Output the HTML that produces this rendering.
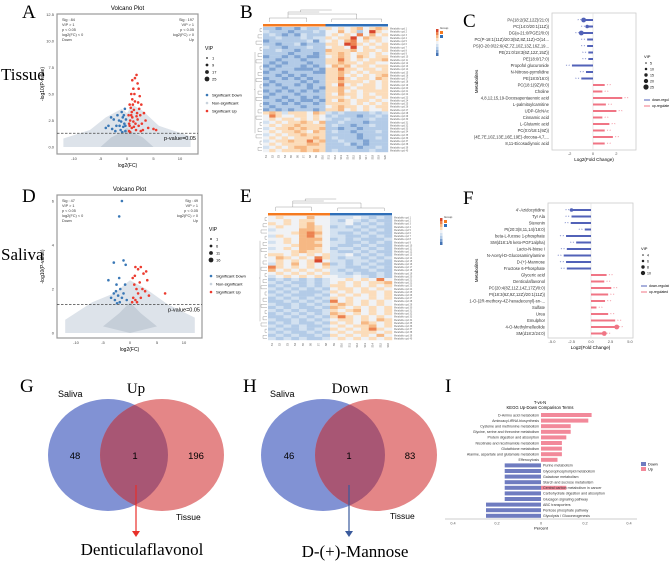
<!DOCTYPE html>
<html><head><meta charset="utf-8">
<style>
html,body{margin:0;padding:0;background:#fff;}
svg{display:block;font-family:"Liberation Sans",sans-serif;}
.serif{font-family:"Liberation Serif",serif;}
</style></head>
<body>
<svg id="fig" width="669" height="563" viewBox="0 0 669 563" xmlns="http://www.w3.org/2000/svg">
<defs>
<clipPath id="clipG"><ellipse cx="108" cy="455" rx="60" ry="56"/></clipPath>
<clipPath id="clipH"><ellipse cx="323" cy="455" rx="62" ry="56"/></clipPath>
</defs>
<text class="serif" x="22" y="18" font-size="19">A</text>
<text class="serif" x="240" y="18" font-size="19">B</text>
<text class="serif" x="463" y="27" font-size="19">C</text>
<text class="serif" x="22" y="202" font-size="19">D</text>
<text class="serif" x="240" y="202" font-size="19">E</text>
<text class="serif" x="463" y="204" font-size="19">F</text>
<text class="serif" x="20" y="392" font-size="19">G</text>
<text class="serif" x="243" y="392" font-size="19">H</text>
<text class="serif" x="445" y="392" font-size="19">I</text>
<text class="serif" x="1" y="80" font-size="17">Tissue</text>
<text class="serif" x="1" y="260" font-size="17">Saliva</text>

<g>
<ellipse cx="108" cy="455" rx="60" ry="56" fill="#8192d4"/>
<ellipse cx="162" cy="455" rx="62" ry="56" fill="#e48687"/>
<ellipse cx="162" cy="455" rx="62" ry="56" fill="#a85674" clip-path="url(#clipG)"/>
<text x="58" y="397" font-size="9">Saliva</text>
<text class="serif" x="136" y="393" font-size="15" text-anchor="middle">Up</text>
<text x="75" y="459" font-size="9.5" text-anchor="middle">48</text>
<text x="135" y="459" font-size="9.5" text-anchor="middle">1</text>
<text x="196" y="459" font-size="9.5" text-anchor="middle">196</text>
<text x="176" y="520" font-size="8.5">Tissue</text>
<line x1="136" y1="485" x2="136" y2="532" stroke="#e8302a" stroke-width="1.2"/>
<polygon points="132,531 140,531 136,537" fill="#e8302a"/>
<text class="serif" x="142" y="555" font-size="17" text-anchor="middle">Denticulaflavonol</text>
</g>
<g>
<ellipse cx="323" cy="455" rx="62" ry="56" fill="#8192d4"/>
<ellipse cx="376" cy="455" rx="61" ry="56" fill="#e48687"/>
<ellipse cx="376" cy="455" rx="61" ry="56" fill="#a85674" clip-path="url(#clipH)"/>
<text x="270" y="397" font-size="9">Saliva</text>
<text class="serif" x="350" y="393" font-size="15" text-anchor="middle">Down</text>
<text x="289" y="459" font-size="9.5" text-anchor="middle">46</text>
<text x="349" y="459" font-size="9.5" text-anchor="middle">1</text>
<text x="410" y="459" font-size="9.5" text-anchor="middle">83</text>
<text x="390" y="519" font-size="8.5">Tissue</text>
<line x1="349" y1="485" x2="349" y2="532" stroke="#3a5a9c" stroke-width="1.2"/>
<polygon points="345,531 353,531 349,537" fill="#3a5a9c"/>
<text class="serif" x="355" y="557" font-size="17" text-anchor="middle">D-(+)-Mannose</text>
</g>
</svg>
<script>
const volcA_up=[[0.5,2],[0.8,3],[1,4.5],[1.2,5.5],[1.5,6.5],[1.8,6.8],[2,6],[2.2,5.5],[1.3,3.5],[0.6,2.5],[0.9,1.8],[1.6,2.2],[2.5,3],[2.8,2.2],[3,1.6],[1.1,4],[1.4,5],[0.7,3.7],[2.1,4.2],[2.4,4.8],[1.9,3.2],[0.4,1.5],[1.0,2.8],[3.5,2.5],[4,1.8],[5,1.7],[5.5,1.6],[2.6,1.5],[1.7,1.6],[0.3,3],[0.5,4],[1.2,2.4],[2.0,2.6],[2.3,3.6],[1.5,4.3],[0.8,5],[1.0,6.3],[2.7,4],[3.2,3.2],[0.6,1.4],[0.4,2.2],[1.3,1.9],[0.9,3.3],[1.8,2.9],[2.2,2]];
const volcA_down=[[-0.3,1.5],[-0.5,2.2],[-0.8,2.8],[-1,3.3],[-1.5,2.5],[-2,2],[-2.5,2.6],[-3,2.8],[-3.5,2],[-4,1.8],[-0.4,3.6],[-0.7,1.9],[-1.2,1.6],[-1.8,3],[-2.2,1.5],[-0.2,2.6],[-0.6,3],[-1.4,2],[-2.8,1.7],[-0.9,1.4],[-0.3,2],[-1.1,2.4]];
const volcA_cloud=[[-12,0],[-12,0.8],[-7,1.6],[-4,2.8],[-1,3.6],[0,3.2],[1,4],[3,3.4],[6,2],[12,1],[12,0]];
const volcA_core=[[-5,0],[-3,0.9],[-1,1.4],[0,1.8],[1,1.4],[3,0.9],[5,0]];
const volcD_up=[[0.5,2.5],[1,3],[1.5,2.9],[2,3],[2.5,2.7],[3,2.8],[0.8,2.2],[1.2,2],[1.8,2.3],[2.3,2],[0.6,1.6],[1,1.5],[1.5,1.8],[2,1.6],[2.8,1.9],[3.5,1.7],[0.4,1.4],[1.3,1.4],[6.5,1.8],[0.9,2.6],[3.2,2.4]];
const volcD_down=[[-1.5,6],[-2,5.3],[-3,3.2],[-1.2,3.3],[-0.8,3.1],[-2,2.5],[-4,2.4],[-2.5,2.2],[-1.8,2],[-3,1.8],[-2.2,1.7],[-1.5,1.6],[-2.8,1.5],[-1.9,1.4],[-0.6,1.5],[-2.4,1.35],[-1.2,1.8],[-3.5,1.6],[-0.9,2.2],[-2.6,1.9]];
const volcD_cloud=[[-12,0],[-12,0.6],[-7,1.4],[-3,1.8],[0,2.4],[3,2],[7,1.3],[12,0.7],[12,0]];
const volcD_core=[[-5,0.3],[-2,0.9],[0,1.4],[2,0.9],[5,0.3],[0,0]];

const heatB=["22122132235454564565","32221222324464524854","23212132224545474645","22322232335455846554","12222223134546745454","22122312225548754545","32212223224554845455","22322122226555645545","22221222125565455454","12212121124565465455","22122212225575454556","21212221225565545544","12122212124656455455","21222111215575545545","12212222115565454555","22121212225564545456","12212121225575455465","21222212125565554545","12122121225474545545","22212221215565455545","12121212125564545555","21222122225465545455","12212212125554545545","22121211215465455454","12212122125555454545","21222212224565545455","12121222125564545445","56535554653232222323","47544554542322212232","45455454543223222322","34545565462232221222","45455655552322122322","34556565562212212222","45455654652322122232","34545565552222212222","45454555652322212232","34556557562232221222","45455556652223121222","34545665552222212232","45455565652322222322"];
const heatE=["4544464433343232","4454554432432322","5454564433423232","4544565423232322","3444665433323232","4445676432232322","3544675433223232","4454666423232223","3454665433223232","4445666432232322","3454665423323232","4445655432232322","5545454533423232","4654547532332323","4545458433233232","3546454623232322","7545454533223232","6454545432322322","4545454533232232","3454545443343232","2323232344545474","3232232345454556","2323232355454545","3232323245545454","2323222354545545","3232223245454545","2323232354544545","2232323274545454","3223232356545454","2323223265454545","3232322354564545","2323232365454545","2232323257545454","3223232345545465","2323223254546545","3232322345455645","2322323254545754","3232232345455545","2323223254545464","3232322345454545"];

const cNames=["PA(18:2(9Z,12Z)/21:0)","PC(14:0/20:1(11Z))","DG(a-21:0/PGE2/0:0)","PC(P-18:1(11Z)/20:3(5Z,8Z,11Z)-O(14...","PS(O-20:0/22:6(4Z,7Z,10Z,13Z,16Z,19...","PE(21:0/18:3(6Z,12Z,15Z))","PE(18:0/17:0)","Propofol glucuronide","N-Nitroso-pyrrolidine","PE(18:0/16:0)","PC(18:1(9Z)/0:0)","Choline","4,8,12,15,19-Docosapentaenoic acid","L-palmitoylcarnitine","UDP-GlcNAc","Cinnamic acid","L-Glutamic acid","PC(0:0/18:1(9Z))","(4E,7E,10Z,13E,16E,19E)-docosa-4,7,...","8,11-Eicosadiynoic acid"];
const cValues=[-0.8,-0.5,-1.0,-0.5,-0.5,-0.4,-0.4,-1.8,-0.6,-1.0,1.0,0.8,2.5,1.1,2.0,0.8,1.4,1.0,1.7,1.0];
const cVip=[4,3,4,0,0,0,0,0,0,0,0,0,0,0,0,0,0,0,0,0];
const fNames=["4'-Azidocytidine","Tyr Ala","Stevenin","PI(20:3(8,11,14)/18:0)","beta-L-fucose 1-phosphate","SM(d18:1/6 keto-PGF1alpha)","Lacto-N-biose I","N-Acetyl-D-Glucosaminylamine","D-(+)-Mannose","Fructose 6-Phosphate","Glyceric acid","Denticulaflavonol","PC(20:4(8Z,11Z,14Z,17Z)/0:0)","PI(18:3(6Z,9Z,12Z)/20:1(11Z))","1-O-(2R-methoxy-4Z-hexadecenyl)-sn-...","Sulfate","Urea","Emulphor","4-O-Methylmelleolide","SM(d18:2/24:0)"];
const fValues=[-2.5,-2.5,-2.6,-0.8,-3.2,-1.9,-3.1,-3.5,-3.2,-3.1,2.0,1.7,2.6,2.2,1.8,0.7,2.2,3.1,3.3,1.7];
const fVip=[3,0,0,0,0,0,0,0,0,0,0,0,0,0,0,0,0,0,4,4];

const iTerms=["D-Amino acid metabolism","Aminoacyl-tRNA biosynthesis","Cysteine and methionine metabolism","Glycine, serine and threonine metabolism","Protein digestion and absorption","Nicotinate and nicotinamide metabolism","Glutathione metabolism","Alanine, aspartate and glutamate metabolism","Efferocytosis","Purine metabolism","Glycerophospholipid metabolism","Galactose metabolism","Starch and sucrose metabolism","Central carbon metabolism in cancer","Carbohydrate digestion and absorption","Glucagon signaling pathway","ABC transporters","Pentose phosphate pathway","Glycolysis / Gluconeogenesis"];
const iUp=[0.23,0.215,0.135,0.135,0.115,0.095,0.095,0.095,0.075,0,0,0,0,0.115,0,0,0,0,0];
const iDown=[0,0,0,0,0,0,0,0,0,0.165,0.165,0.165,0.165,0.165,0.165,0.165,0.25,0.25,0.25];

const NS='http://www.w3.org/2000/svg';
const svg=document.getElementById('fig');
function el(tag,attrs,parent){const e=document.createElementNS(NS,tag);for(const k in attrs)e.setAttribute(k,attrs[k]);(parent||svg).appendChild(e);return e;}
function txt(s,attrs,parent){const e=el('text',attrs,parent);e.textContent=s;return e;}
function grp(name){const g=el('g',{});


return g;}

function volcano(name,box,x0,kx,y0,ky,yTicks,yFmt,up,down,cloud,core,ann,vipLabels,title){
  const g=grp(name);
  const X=v=>x0+v*kx, Y=v=>y0-v*ky;
  const t=txt(title,{x:box.x+box.w/2,y:box.y-4,'font-size':6,'text-anchor':'middle'},g);
  
  
  const r=el('rect',{x:box.x,y:box.y,width:box.w,height:box.h,fill:'#fff',stroke:'#999','stroke-width':1.2},g);
  
  
  const cp=el('polygon',{points:cloud.map(p=>X(p[0])+','+Y(p[1])).join(' '),fill:'#dde3ea'},g);
  
  
  const cc=el('polygon',{points:core.map(p=>X(p[0])+','+Y(p[1])).join(' '),fill:'#c5ced8'},g);
  
  
  down.forEach(p=>{const c=el('circle',{cx:X(p[0]),cy:Y(p[1]),r:1.3,fill:'#3a78b6'},g);
    
    });
  up.forEach(p=>{const c=el('circle',{cx:X(p[0]),cy:Y(p[1]),r:1.3,fill:'#ec3a2e'},g);
    
    });
  const th=el('line',{x1:box.x,x2:box.x+box.w,y1:Y(1.3),y2:Y(1.3),stroke:'#444','stroke-dasharray':'2.5,1.5','stroke-width':0.8},g);
  
  
  const pl=txt('p-value=0.05',{x:box.x+box.w-2,y:Y(1.3)+7,'font-size':5.5,'text-anchor':'end'},g);
  
  
  yTicks.forEach(v=>{const l=txt(v.toFixed(yFmt),{x:box.x-3,y:Y(v)+1.5,'font-size':4,'text-anchor':'end',fill:'#444'},g);
    
    });
  [-10,-5,0,5,10].forEach(v=>{const l=txt(String(v),{x:X(v),y:box.y+box.h+6,'font-size':4,'text-anchor':'middle',fill:'#444'},g);
    
    });
  const xt=txt('log2(FC)',{x:box.x+box.w/2,y:box.y+box.h+13,'font-size':5,'text-anchor':'middle'},g);
  
  
  const yt=txt('-log10(P-value)',{x:0,y:0,'font-size':5,'text-anchor':'middle',transform:`translate(${box.x-13},${box.y+box.h/2}) rotate(-90)`},g);
  
  
  ann[0].forEach((s,i)=>{const a=txt(s,{x:box.x+5,y:box.y+7+i*5,'font-size':3.8,fill:'#333'},g);
    
    });
  ann[1].forEach((s,i)=>{const a=txt(s,{x:box.x+box.w-4,y:box.y+7+i*5,'font-size':3.8,fill:'#333','text-anchor':'end'},g);
    
    });
  const lx=box.x+box.w+7, ly=box.y+36;
  const vt=txt('VIP',{x:lx,y:ly,'font-size':5},g);
  
  
  vipLabels.forEach((s,i)=>{const d=el('circle',{cx:lx+2,cy:ly+8+i*7,r:0.9+i*0.5,fill:'#222'},g);
    
    
    const l=txt(s,{x:lx+7,y:ly+9.5+i*7,'font-size':4},g);
    
    });
  [['Significant Down','#3a78b6'],['Non-significant','#c8d2dc'],['Significant Up','#ec3a2e']].forEach((s,i)=>{
    const d=el('circle',{cx:lx+2,cy:ly+45+i*8,r:1.3,fill:s[1]},g);
    
    
    const l=txt(s[0],{x:lx+7,y:ly+46.5+i*8,'font-size':4},g);
    
    });
}
volcano('volcano-tissue',{x:57,y:14,w:141,h:140},127,5.3,147,10.6,[0,2.5,5,7.5,10,12.5],1,volcA_up,volcA_down,volcA_cloud,volcA_core,
 [['Sig : 84','VIP > 1','p < 0.05','log2(FC) < 0','Down'],['Sig : 197','VIP > 1','p < 0.05','log2(FC) > 0','Up']],['1','9','17','25'],'Volcano Plot');
volcano('volcano-saliva',{x:57,y:195,w:145,h:143},130,5.4,333,22,[0,2,4,6],0,volcD_up,volcD_down,volcD_cloud,volcD_core,
 [['Sig : 47','VIP > 1','p < 0.05','log2(FC) < 0','Down'],['Sig : 49','VIP > 1','p < 0.05','log2(FC) > 0','Up']],['1','6','11','16'],'Volcano Plot');

const hcol=['#4674b4','#7fa3d2','#b3cbe7','#d3e1f0','#f0f2f5','#fbdcba','#f6b884','#ec8250','#d8462e'];
function heatmap(name,rows,x,y,w,h,nOrange){
  const g=grp(name);
  const nc=rows[0].length, nr=rows.length, cw=w/nc, rh=h/nr;
  const ob=el('rect',{x:x,y:y-3,width:cw*nOrange,height:2.5,fill:'#f47a20'},g);
  
  
  const bb=el('rect',{x:x+cw*nOrange,y:y-3,width:w-cw*nOrange,height:2.5,fill:'#2f6fb8'},g);
  
  
  rows.forEach((row,i)=>{for(let j=0;j<nc;j++){
    const c=el('rect',{x:x+j*cw,y:y+i*rh,width:cw+0.2,height:rh+0.2,fill:hcol[+row[j]]},g);
    
    }
    const l=txt('Metabolite cpd '+(i+1),{x:x+w+2,y:y+i*rh+rh*0.8,'font-size':2.3,fill:'#666'},g);
    
    });
  for(let j=0;j<nc;j++){const l=txt('S'+(j+1),{x:0,y:0,'font-size':2.6,fill:'#555',transform:`translate(${x+j*cw+cw/2+1},${y+h+3}) rotate(-90)`,'text-anchor':'end'},g);
    
    }
  let d='M'+(x+cw)+' '+(y-5)+' V'+(y-9)+' H'+(x+cw*nOrange*0.7)+' V'+(y-5);
  d+=' M'+(x+cw*nOrange*0.4)+' '+(y-9)+' V'+(y-13)+' H'+(x+w*0.75)+' V'+(y-8);
  d+=' M'+(x+cw*(nOrange+1))+' '+(y-5)+' V'+(y-8)+' H'+(x+w-cw)+' V'+(y-5);
  d+=' M'+(x+cw*nOrange*0.4)+' '+(y-13)+' V'+(y-15)+' H'+(x+w*0.45)+' M'+(x+w*0.3)+' '+(y-15)+' V'+(y-17)+' H'+(x+w*0.55);
  const top=el('path',{d:d,fill:'none',stroke:'#888','stroke-width':0.4},g);
  
  
  let dl='';
  for(let i=0;i<nr;i+=2){dl+=' M'+(x-1)+' '+(y+i*rh+rh/2)+' H'+(x-3-(i%6))+' V'+(y+(i+1)*rh+rh/2)+' H'+(x-1);}
  dl+=' M'+(x-8)+' '+(y+h*0.2)+' V'+(y+h*0.85)+' M'+(x-8)+' '+(y+h*0.5)+' H'+(x-9);
  const left=el('path',{d:dl,fill:'none',stroke:'#888','stroke-width':0.4},g);
  
  
  for(let k=0;k<9;k++){const s=el('rect',{x:x+w+48,y:y+2+(8-k)*3,width:2.5,height:3,fill:hcol[k]},g);
    
    }
  const gt=txt('Group',{x:x+w+52,y:y+2,'font-size':3,fill:'#333'},g);
  
  
  const o=el('rect',{x:x+w+52,y:y+4,width:3,height:3,fill:'#f47a20'},g);
  
  
  const b=el('rect',{x:x+w+52,y:y+8,width:3,height:3,fill:'#2f6fb8'},g);
  
  
}
heatmap('heatmap-tissue',heatB,263,27,125,125,10);
heatmap('heatmap-saliva',heatE,268,216,124,124,8);

function lolli(name,names,vals,vip,box,x0,k,ry0,step,ticks,tickFmt,vipLabels,legY){
  const g=grp(name);
  const X=v=>x0+v*k;
  const r=el('rect',{x:box.x,y:box.y,width:box.w,height:box.h,fill:'#fff',stroke:'#ccc','stroke-width':0.8},g);
  
  
  const z=el('line',{x1:X(0),x2:X(0),y1:box.y,y2:box.y+box.h,stroke:'#ddd','stroke-width':0.6},g);
  
  
  names.forEach((n,i)=>{
    const y=ry0+i*step, v=vals[i], col=v<0?'#5262b8':'#f07585';
    const b=el('rect',{x:Math.min(X(0),X(v)),y:y-1,width:Math.abs(X(v)-X(0)),height:2,fill:col},g);
    
    
    if(vip[i]){const d=el('circle',{cx:X(v),cy:y,r:vip[i]*0.6,fill:col},g);
      
      }
    const s=txt('* *',{x:v<0?X(v)-2:X(v)+2,y:y+1.5,'font-size':4,fill:col,'text-anchor':v<0?'end':'start'},g);
    
    
    const l=txt(n,{x:box.x-3,y:y+1.4,'font-size':4.2,'text-anchor':'end',fill:'#333'},g);
    
    });
  ticks.forEach(v=>{const l=txt(v.toFixed(tickFmt),{x:X(v),y:box.y+box.h+5,'font-size':4,'text-anchor':'middle',fill:'#555'},g);
    
    });
  const xt=txt('Log2(Fold Change)',{x:box.x+box.w/2,y:box.y+box.h+11,'font-size':4.6,'text-anchor':'middle'},g);
  
  
  const yt=txt('Metabolites',{x:0,y:0,'font-size':4.6,'text-anchor':'middle',transform:`translate(478,${box.y+box.h/2}) rotate(-90)`},g);
  
  
  const lx=box.x+box.w+8;
  const vt=txt('VIP',{x:lx,y:legY,'font-size':4},g);
  
  
  vipLabels.forEach((s,i)=>{const d=el('circle',{cx:lx+2,cy:legY+5+i*6,r:0.8+i*0.45,fill:'#222'},g);
    
    
    const l=txt(s,{x:lx+6,y:legY+6.3+i*6,'font-size':3.5},g);
    
    });
  const ly=legY+vipLabels.length*6+12;
  [['down-regulated','#5262b8'],['up-regulated','#f07585']].forEach((s,i)=>{
    const ln=el('line',{x1:lx,x2:lx+6,y1:ly+i*6,y2:ly+i*6,stroke:s[1],'stroke-width':1},g);
    
    
    const l=txt(s[0],{x:lx+8,y:ly+i*6+1.2,'font-size':3.4},g);
    
    });
}
lolli('lollipop-tissue',cNames,cValues,cVip,{x:552,y:13,w:84,h:137},593,11.7,20,6.5,[-2,0,2],0,['5','10','15','20','25'],58);
lolli('lollipop-saliva',fNames,fValues,fVip,{x:548,y:203,w:85,h:135},591,7.8,210,6.5,[-5,-2.5,0,2.5,5],1,['4','6','8','10'],250);

(function(){
  const g=grp('kegg-bar-chart');
  const x0=541,k=220,ry0=415,step=5.6;
  const X=v=>x0+v*k;
  const t1=txt('T-vs-N',{x:540,y:404,'font-size':4.2,'text-anchor':'middle'},g);
  
  
  const t2=txt('KEGG Up-Down Comparison Terms',{x:540,y:409,'font-size':4.2,'text-anchor':'middle'},g);
  
  
  iTerms.forEach((n,i)=>{
    const y=ry0+i*step;
    if(iDown[i]){const b=el('rect',{x:X(-iDown[i]),y:y-2,width:iDown[i]*k,height:4,fill:'#6f7cc0'},g);
      
      }
    if(iUp[i]){const b=el('rect',{x:X(0),y:y-2,width:iUp[i]*k,height:4,fill:'#f2899a'},g);
      
      }
    const isUp=i<9;
    const l=txt(n,{x:isUp?X(0)-2:X(0)+2,y:y+1.3,'font-size':3.6,'text-anchor':isUp?'end':'start',fill:'#333'},g);
    
    });
  const ax=el('line',{x1:445,x2:637,y1:519,y2:519,stroke:'#999','stroke-width':0.6},g);
  
  
  [-0.4,-0.2,0,0.2,0.4].forEach(v=>{const l=txt(v===0?'0':String(Math.abs(v)),{x:X(v),y:524.5,'font-size':3.8,'text-anchor':'middle',fill:'#555'},g);
    
    });
  const xt=txt('Percent',{x:X(0),y:529.5,'font-size':4,'text-anchor':'middle'},g);
  
  
  [['Down','#6f7cc0'],['Up','#f2899a']].forEach((s,i)=>{
    const r=el('rect',{x:641,y:462+i*5,width:5,height:4,fill:s[1]},g);
    
    
    const l=txt(s[0],{x:648,y:465.5+i*5,'font-size':3.8},g);
    
    });
})();
</script>
</body></html>
